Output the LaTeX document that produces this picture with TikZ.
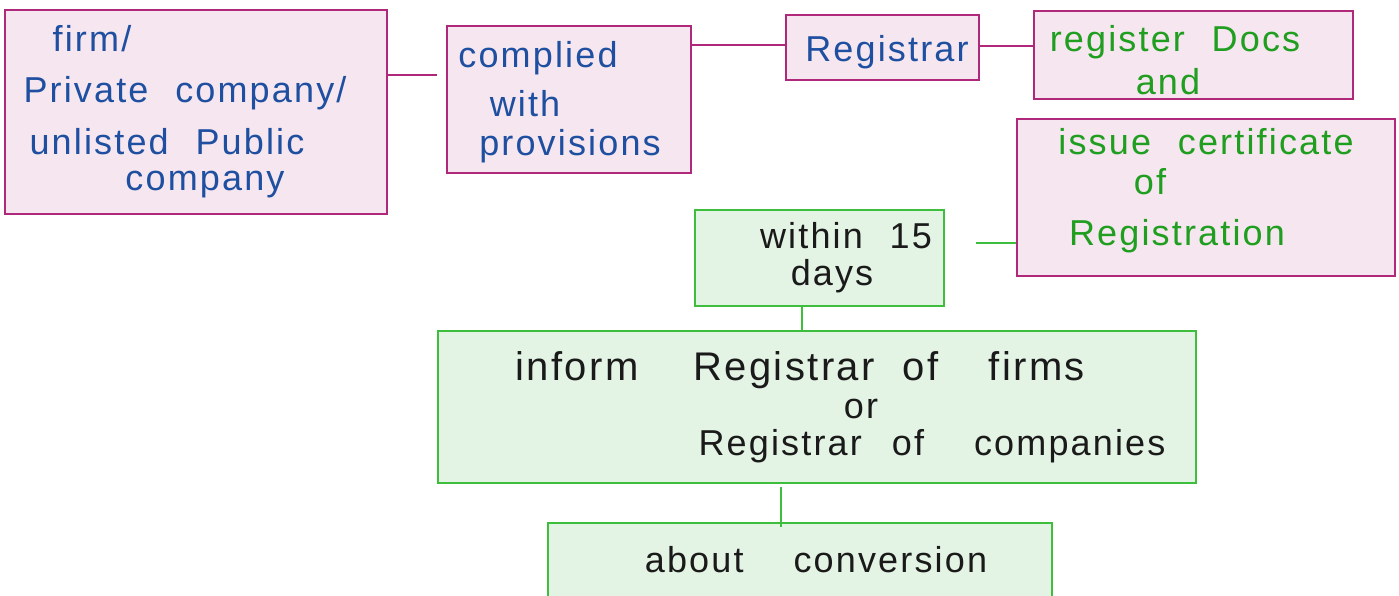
\documentclass[tikz,border=0pt]{standalone}
\usepackage{fontspec}
\setmainfont{Liberation Sans}[WordSpace=2.2, LetterSpace=6]
\definecolor{pinkfill}{HTML}{F6E6EF}
\definecolor{pinkdraw}{HTML}{B0287A}
\definecolor{greenfill}{HTML}{E4F4E4}
\definecolor{greendraw}{HTML}{3DBE3D}
\definecolor{bluetext}{HTML}{1E4FA0}
\definecolor{greentext}{HTML}{1F9E1F}
\definecolor{blacktext}{HTML}{1A1A1A}
\tikzset{
  pinkbox/.style={draw=pinkdraw, fill=pinkfill, line width=1.2pt, inner sep=0pt},
  greenbox/.style={draw=greendraw, fill=greenfill, line width=1.2pt, inner sep=0pt},
  pinkline/.style={draw=pinkdraw, line width=1.5pt},
  greenline/.style={draw=greendraw, line width=1.5pt},
  hw/.style={anchor=base, inner sep=0pt, font=\fontsize{36}{40}\selectfont},
  bluehw/.style={hw, text=bluetext},
  greenhw/.style={hw, text=greentext},
  blackhw/.style={hw, text=blacktext},
}
\begin{document}
\begin{tikzpicture}[x=1pt, y=-1pt]
\clip (0,0) rectangle (1399,596);
\fill[white] (0,0) rectangle (1399,596);
% boxes
\node[pinkbox, minimum width=382pt, minimum height=204pt] (b1) at (196,112) {};
\node[pinkbox, minimum width=244pt, minimum height=147pt] (b2) at (569,99.5) {};
\node[pinkbox, minimum width=193pt, minimum height=65pt] (b3) at (882.5,47.5) {};
\node[pinkbox, minimum width=319pt, minimum height=88pt] (b4) at (1193.5,55) {};
\node[pinkbox, minimum width=378pt, minimum height=157pt] (b5) at (1206,197.5) {};
\node[greenbox, minimum width=249pt, minimum height=96pt] (b6) at (819.5,258) {};
\node[greenbox, minimum width=758pt, minimum height=152pt] (b7) at (817,407) {};
\node[greenbox, minimum width=504pt, minimum height=110pt] (b8) at (800,578) {};
% connectors
\coordinate (c12) at (437,75);
\draw[pinkline] (b1.east |- c12) -- (c12);
\coordinate (c23) at (0,45);
\draw[pinkline] (b2.east |- c23) -- (b3.west |- c23);
\coordinate (c34) at (0,46);
\draw[pinkline] (b3.east |- c34) -- (b4.west |- c34);
\coordinate (c65) at (976,243);
\draw[greenline] (c65) -- (b5.west |- c65);
\coordinate (c67) at (802,0);
\draw[greenline] (b6.south -| c67) -- (b7.north -| c67);
\coordinate (c78a) at (781,487);
\coordinate (c78b) at (781,527);
\draw[greenline] (c78a) -- (c78b);
% texts
\node[bluehw] (t1a) at (92,52) {firm/};
\node[bluehw] (t1b) at (185,103) {Private company/};
\node[bluehw] (t1c) at (167,155) {unlisted Public};
\node[bluehw] (t1d) at (205,190) {company};
\node[bluehw] (t2a) at (538,68) {complied};
\node[bluehw] (t2b) at (525,117) {with};
\node[bluehw] (t2c) at (570,156) {provisions};
\node[bluehw] (t3) at (887,62) {Registrar};
\node[greenhw] (t4a) at (1175,52) {register Docs};
\node[greenhw] (t4b) at (1168,95) {and};
\node[greenhw] (t5a) at (1206,155) {issue certificate};
\node[greenhw] (t5b) at (1150,195) {of};
\node[greenhw] (t5c) at (1177,245) {Registration};
\node[blackhw] (t6a) at (846,248) {within 15};
\node[blackhw] (t6b) at (832,285) {days};
\node[blackhw, font=\fontsize{40}{44}\selectfont] (t7a) at (800,380) {inform\hspace{55pt}Registrar\hspace{28pt}of\hspace{50pt}firms};
\node[blackhw] (t7b) at (861,418) {or};
\node[blackhw] (t7c) at (932,455) {Registrar\hspace{30pt}of\hspace{50pt}companies};
\node[blackhw] (t8) at (816,572) {about\hspace{50pt}conversion};
\end{tikzpicture}
\end{document}
